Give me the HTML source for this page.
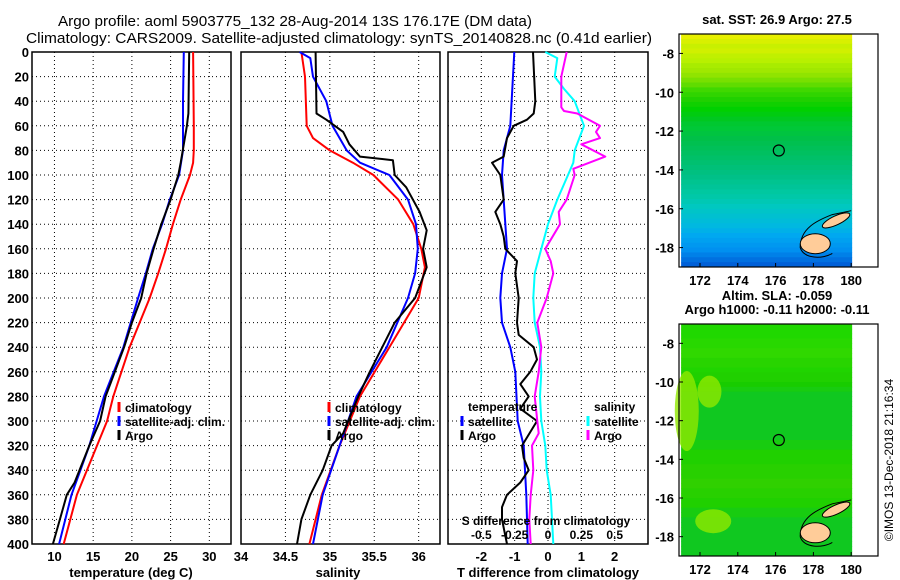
<!DOCTYPE html>
<html><head><meta charset="utf-8"><style>
body{margin:0;background:#fff;}
svg{display:block;font-family:"Liberation Sans",Arial,sans-serif;}
text{font-weight:bold;fill:#000;}
</style></head><body>
<svg id="fig" width="900" height="580" viewBox="0 0 900 580" xmlns="http://www.w3.org/2000/svg">
<rect x="0" y="0" width="900" height="580" fill="#fff"/>
<text x="58" y="26" font-size="15" style="font-weight:normal" textLength="474" lengthAdjust="spacingAndGlyphs">Argo profile: aoml 5903775_132 28-Aug-2014 13S 176.17E (DM data)</text>
<text x="26" y="43" font-size="15" style="font-weight:normal" textLength="626" lengthAdjust="spacingAndGlyphs">Climatology: CARS2009. Satellite-adjusted climatology: synTS_20140828.nc (0.41d earlier)</text>
<g id="plots"></g>
<g id="maps"></g>
<text transform="translate(893,460) rotate(-90)" text-anchor="middle" font-size="12" style="font-weight:normal">©IMOS 13-Dec-2018 21:16:34</text>
</svg>
<script>
// ---------- data ----------
const depthTicks = [0,20,40,60,80,100,120,140,160,180,200,220,240,260,280,300,320,340,360,380,400];
const tempClimDepth = [0,60,80,90,100,120,140,160,180,200,240,280,300,320,360,400];
const tempClim      = [27.9,28.0,28.0,27.9,27.5,26.3,25.3,24.4,23.4,22.3,19.7,17.6,16.8,15.5,12.9,11.2];
const tempSatDepth  = [0,40,80,100,120,140,160,180,200,240,280,320,360,400];
const tempSat       = [26.7,26.6,26.6,26.1,24.9,23.9,22.7,21.8,20.8,18.9,16.4,14.5,12.2,10.6];
const tempArgoDepth = [0,50,55,60,90,100,120,140,160,180,200,220,240,280,300,320,350,360,380,400];
const tempArgo      = [27.4,27.3,27.2,27.1,26.3,26.0,25.0,23.8,22.8,21.9,21.2,20.0,19.0,16.6,15.9,14.5,12.6,11.6,10.7,9.8];
const salClimDepth = [0,20,60,70,80,90,100,120,140,160,175,200,240,280,320,360,400];
const salClim      = [34.68,34.72,34.74,34.81,35.0,35.26,35.49,35.77,35.94,36.03,36.07,36.0,35.67,35.34,35.11,34.91,34.77];
const salSatDepth  = [0,5,20,40,60,80,90,100,120,140,160,180,200,240,280,320,360,400];
const salSat       = [34.66,34.78,34.81,34.96,35.03,35.19,35.34,35.67,35.88,35.97,35.99,35.96,35.88,35.64,35.3,35.11,34.92,34.81];
const salArgoDepth = [0,50,55,65,75,85,88,100,110,130,145,160,175,200,220,260,280,310,320,340,360,380,400];
const salArgo      = [34.84,34.85,34.96,35.15,35.22,35.34,35.71,35.73,35.86,36.01,36.09,36.05,36.09,35.96,35.73,35.45,35.32,35.15,35.02,34.92,34.78,34.68,34.63];
const tDiffSatDepth = [0,60,80,100,160,180,200,220,240,260,300,320,360,400];
const tDiffSat      = [-1.01,-1.13,-1.33,-1.38,-1.23,-1.38,-1.43,-1.38,-1.13,-0.98,-0.91,-0.73,-0.65,-0.61];
const tDiffArgoDepth = [0,40,50,55,60,70,85,90,100,120,130,140,150,160,170,180,200,220,230,240,250,260,270,280,290,300,320,330,340,350,360,370,380,400];
const tDiffArgo      = [-0.45,-0.38,-0.43,-0.63,-1.03,-1.23,-1.33,-1.68,-1.43,-1.33,-1.58,-1.43,-1.33,-1.28,-0.93,-0.98,-0.88,-0.93,-0.88,-0.43,-0.33,-0.53,-0.83,-0.58,-0.83,-0.33,-0.78,-0.73,-0.58,-0.83,-1.23,-1.38,-1.38,-1.23];
const sDiffSatDepth = [0,5,20,30,40,60,80,90,100,120,140,160,180,200,220,240,260,280,300,320,340,360,400];
const sDiffSat      = [-0.02,0.07,0.05,0.12,0.2,0.27,0.2,0.19,0.15,0.07,0.0,-0.05,-0.1,-0.11,-0.1,-0.06,-0.05,-0.06,-0.05,-0.02,-0.01,0.02,0.04];
const sDiffArgoDepth = [0,10,20,45,48,50,60,65,70,75,85,95,100,120,130,140,160,170,180,200,220,240,260,280,300,310,320,340,360,380,400];
const sDiffArgo      = [0.14,0.12,0.1,0.1,0.12,0.22,0.39,0.36,0.39,0.25,0.43,0.19,0.2,0.14,0.08,0.09,-0.02,0.02,0.04,-0.01,-0.08,-0.05,-0.07,-0.1,-0.08,-0.07,-0.12,-0.11,-0.13,-0.14,-0.13];

const NS="http://www.w3.org/2000/svg";
function el(tag, attrs, parent){const e=document.createElementNS(NS,tag);for(const k in attrs)e.setAttribute(k,attrs[k]);(parent||document.getElementById('plots')).appendChild(e);return e;}
const yTop=52, yBot=544;
function yScale(d){return yTop+(d/400)*(yBot-yTop);}

function makePanel(name,x0,x1,vmin,vmax,xticks,gridVals){
  const xs=v=>x0+(v-vmin)/(vmax-vmin)*(x1-x0);
  const g=el('g',{});
  
  
  gridVals.forEach(v=>{const l=el('line',{x1:xs(v),x2:xs(v),y1:yTop,y2:yBot,stroke:'#000','stroke-width':1,'stroke-dasharray':'1,3'},g);
    
    });
  depthTicks.forEach(d=>{if(d==0||d==400)return;const l=el('line',{x1:x0,x2:x1,y1:yScale(d),y2:yScale(d),stroke:'#000','stroke-width':1,'stroke-dasharray':'1,3'},g);
    
    });
  const r=el('rect',{x:x0,y:yTop,width:x1-x0,height:yBot-yTop,fill:'none',stroke:'#000','stroke-width':1.5},g);
  
  
  xticks.forEach(t=>{const tx=el('text',{x:xs(t[0]),y:561,'text-anchor':'middle','font-size':13},g);tx.textContent=t[1];
    
    });
  return {xs,g};
}
function line(p,depths,vals,color,name){
  const pts=depths.map((d,i)=>p.xs(vals[i]).toFixed(1)+','+yScale(d).toFixed(1)).join(' ');
  const pl=el('polyline',{points:pts,fill:'none',stroke:color,'stroke-width':2,'stroke-linejoin':'round'},p.g);
  
  
}
function txt(x,y,s,size,name,anchor,parent){const t=el('text',{x:x,y:y,'font-size':size,'text-anchor':anchor||'start'},parent);t.textContent=s;
  
  return t;}
function legbar(x,y,color,name){const l=el('line',{x1:x,x2:x,y1:y-10,y2:y,stroke:color,'stroke-width':3});
  
  }

depthTicks.forEach(d=>txt(29,yScale(d)+5,String(d),13,'y-tick-label','end'));

const p1=makePanel('temperature',32,231,7.1,32.8,[[10,'10'],[15,'15'],[20,'20'],[25,'25'],[30,'30']],[10,15,20,25,30]);
line(p1,tempClimDepth,tempClim,'#ff0000','temp-climatology-line');
line(p1,tempSatDepth,tempSat,'#0000ff','temp-satellite-line');
line(p1,tempArgoDepth,tempArgo,'#000000','temp-argo-line');
txt(131,577,'temperature (deg C)',13,'temperature-x-axis-title','middle');
legbar(119,412,'#ff0000','legend-climatology-swatch');txt(125,412,'climatology',12,'legend-climatology');
legbar(119,426,'#0000ff','legend-satellite-swatch');txt(125,426,'satellite-adj. clim.',12,'legend-satellite-adj');
legbar(119,440,'#000','legend-argo-swatch');txt(125,440,'Argo',12,'legend-argo');

const p2=makePanel('salinity',241,440,34,36.24,[[34,'34'],[34.5,'34.5'],[35,'35'],[35.5,'35.5'],[36,'36']],[34.5,35,35.5,36]);
line(p2,salClimDepth,salClim,'#ff0000','sal-climatology-line');
line(p2,salSatDepth,salSat,'#0000ff','sal-satellite-line');
line(p2,salArgoDepth,salArgo,'#000000','sal-argo-line');
txt(338,577,'salinity',13,'salinity-x-axis-title','middle');
legbar(329,412,'#ff0000','legend2-climatology-swatch');txt(335,412,'climatology',12,'legend2-climatology');
legbar(329,426,'#0000ff','legend2-satellite-swatch');txt(335,426,'satellite-adj. clim.',12,'legend2-satellite-adj');
legbar(329,440,'#000','legend2-argo-swatch');txt(335,440,'Argo',12,'legend2-argo');

const p3=makePanel('difference',448,648,-3,3,[[-2,'-2'],[-1,'-1'],[0,'0'],[1,'1'],[2,'2']],[-2,-1,0,1,2]);
const p3s={xs:v=>p3.xs(v*4),g:p3.g};
line(p3,tDiffSatDepth,tDiffSat,'#0000ff','tdiff-satellite-line');
line(p3,tDiffArgoDepth,tDiffArgo,'#000000','tdiff-argo-line');
line(p3s,sDiffSatDepth,sDiffSat,'#00ffff','sdiff-satellite-line');
line(p3s,sDiffArgoDepth,sDiffArgo,'#ff00ff','sdiff-argo-line');
txt(548,577,'T difference from climatology',13,'tdiff-x-axis-title','middle');
txt(546,525,'S difference from climatology',12,'sdiff-axis-title','middle');
[[-0.5,'-0.5'],[-0.25,'-0.25'],[0,'0'],[0.25,'0.25'],[0.5,'0.5']].forEach(t=>txt(p3s.xs(t[0]),539,t[1],12,'sdiff-tick-label','middle'));
txt(468,411,'temperature',12,'legend3-temperature-header');
legbar(462,426,'#0000ff','legend3-tsat-swatch');txt(468,426,'satellite',12,'legend3-tsat');
legbar(462,440,'#000','legend3-targo-swatch');txt(468,440,'Argo',12,'legend3-targo');
txt(594,411,'salinity',12,'legend3-salinity-header');
legbar(588,426,'#00ffff','legend3-ssat-swatch');txt(594,426,'satellite',12,'legend3-ssat');
legbar(588,440,'#ff00ff','legend3-sargo-swatch');txt(594,440,'Argo',12,'legend3-sargo');

// ---------- maps ----------
const mapLatTicks=[-8,-10,-12,-14,-16,-18];
const mapLonTicks=[172,174,176,178,180];
const sstRowColors=['#e8f000','#d8f000','#c8f000','#d0f000','#c0f000','#b8f000','#a8ec00','#a0e800','#90e400','#78e000','#60dc00','#40d800','#30d400','#20d000','#10d000','#00d000','#00cc10','#00c820','#00c830','#00c838','#00c440','#00c048','#00c050','#00c058','#00c060','#00c068','#00c070','#00c078','#00c080','#00c088','#00c490','#00c498','#00c8a0','#00c8a8','#00c8b4','#00c8c0','#00c4c8','#00c0d0','#00bcd8','#00b8e0','#00b0e8','#00a8f0','#00a0f0','#0098f0','#0090f0','#0080e8','#0070e0','#0060d8'];
const slaRowColors=['#20d800','#20d800','#20d800','#28d800','#28d800','#30d800','#30d800','#28d400','#28d400','#20d400','#20d000','#20d000','#18cc00','#18cc10','#10c820','#10c820','#10c820','#10c820','#10c820','#10c820','#10c820','#10c820','#10c820','#10c820','#18cc10','#18cc10','#20d000','#20d000','#20d000','#28d000','#28d000','#28d000','#30d000','#30d000','#28d000','#28d000','#20d000','#20d000','#18cc10','#18cc10','#10c820','#10c820','#10c820','#10c820','#10c820','#10c820','#10c820','#10c820'];
function makeMap(name,y0,y1,rowColors,title1,title2){
  const m=document.getElementById('maps');
  const g=el('g',{},m);
  
  
  const x0=679,x1=878;
  const lonS=lon=>700+(lon-172)*18.9;
  const latS=lat=>y0+(-7-lat)/12*(y1-y0);
  rowColors.forEach((c,i)=>{const r=el('rect',{x:lonS(171),y:latS(-7-i*0.25),width:lonS(180.05)-lonS(171),height:latS(-7.25)-latS(-7)+0.5,fill:c},g);
    
    });
  if(name==='sla-map'){
    [[171.3,-11.5,12,40],[172.7,-17.2,18,12],[172.5,-10.5,12,16]].forEach(b=>{const e=el('ellipse',{cx:lonS(b[0]),cy:latS(b[1]),rx:b[2],ry:b[3],fill:'#90e800',opacity:0.8},g);
      
      });
  }
  const c1=el('path',{d:`M${lonS(177.3)} ${latS(-18)} C${lonS(177.3)} ${latS(-17)} ${lonS(178.2)} ${latS(-16.6)} ${lonS(179)} ${latS(-16.3)} L${lonS(180)} ${latS(-16.1)} M${lonS(177.3)} ${latS(-18)} C${lonS(177.5)} ${latS(-18.6)} ${lonS(178.5)} ${latS(-18.6)} ${lonS(179)} ${latS(-18.3)}`,fill:'none',stroke:'#000','stroke-width':1},g);
  
  
  const i1=el('ellipse',{cx:lonS(178.1),cy:latS(-17.8),rx:15,ry:10,fill:'#ffcc99',stroke:'#000','stroke-width':1},g);
  
  
  const i2=el('ellipse',{cx:lonS(179.2),cy:latS(-16.6),rx:15,ry:4.5,fill:'#ffcc99',stroke:'#000','stroke-width':1,transform:`rotate(-25 ${lonS(179.2)} ${latS(-16.6)})`},g);
  
  
  const ci=el('circle',{cx:lonS(176.17),cy:latS(-13),r:5.5,fill:'none',stroke:'#000','stroke-width':1.2},g);
  
  
  const fr=el('rect',{x:x0,y:y0,width:x1-x0,height:y1-y0,fill:'none',stroke:'#000','stroke-width':1.2},g);
  
  
  mapLatTicks.forEach(l=>{txt(674,latS(l)+5,String(l),13,name+'-lat-label','end',g);
    const tk=el('line',{x1:x0,x2:x0+4,y1:latS(l),y2:latS(l),stroke:'#000'},g);
    
    });
  mapLonTicks.forEach(l=>{txt(lonS(l),y1+18,String(l),13,name+'-lon-label','middle',g);
    const tk=el('line',{x1:lonS(l),x2:lonS(l),y1:y1,y2:y1-4,stroke:'#000'},g);
    
    });
  if(title2){txt(777,y0-24,title1,13,name+'-title','middle',g);txt(777,y0-10,title2,13,name+'-subtitle','middle',g);}
  else txt(777,y0-10,title1,13,name+'-title','middle',g);
}
makeMap('sst-map',34,267,sstRowColors,'sat. SST: 26.9 Argo: 27.5');
makeMap('sla-map',324,556,slaRowColors,'Altim. SLA: -0.059','Argo h1000: -0.11 h2000: -0.11');
</script>
</body></html>
